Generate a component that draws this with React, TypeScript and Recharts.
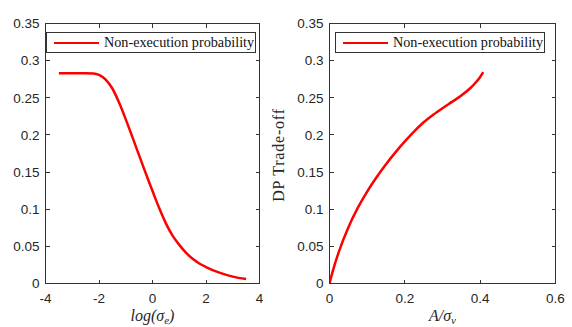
import React from "react";
import { LineChart, Line, XAxis, YAxis, ReferenceArea } from "recharts";

// Left panel: non-execution probability vs log(sigma_e)
const logSigmaE = [-3.5, -3, -2.5, -2.2, -2, -1.75, -1.5, -1.25, -1, -0.75, -0.5, -0.25, 0, 0.25, 0.5, 0.75, 1, 1.25, 1.5, 1.75, 2, 2.5, 3, 3.5];
const probLeft = [0.283, 0.283, 0.283, 0.2828, 0.2808, 0.2745, 0.2625, 0.2435, 0.221, 0.197, 0.1725, 0.148, 0.1245, 0.1015, 0.081, 0.0645, 0.052, 0.0415, 0.0332, 0.027, 0.0222, 0.0146, 0.0093, 0.006];

// Right panel: non-execution probability vs A/sigma_v
const aOverSigmaV = [0, 0.01, 0.025, 0.05, 0.075, 0.1, 0.125, 0.15, 0.175, 0.2, 0.225, 0.25, 0.275, 0.3, 0.325, 0.35, 0.375, 0.39, 0.4, 0.408];
const probRight = [0, 0.019, 0.043, 0.0755, 0.1018, 0.1238, 0.143, 0.1605, 0.1765, 0.1913, 0.2048, 0.217, 0.227, 0.236, 0.2445, 0.253, 0.2635, 0.2715, 0.278, 0.2845];

const yTicks = [0, 0.05, 0.1, 0.15, 0.2, 0.25, 0.3, 0.35];
const xTicksLeft = [-4, -2, 0, 2, 4];
const xTicksRight = [0, 0.2, 0.4, 0.6];
const seriesName = "Non-execution probability";
const yLabel = "DP Trade-off";

const leftData = logSigmaE.map((x, i) => ({ x, y: probLeft[i] }));
const rightData = aOverSigmaV.map((x, i) => ({ x, y: probRight[i] }));

const AXIS = "#333333";
const TICK_FILL = "#262626";
const sans = "'Liberation Sans', Arial, sans-serif";
const serif = "'Liberation Serif', 'Times New Roman', serif";
const CHART_H = 327;
const PLOT_TOP = 23.5;
const X_AXIS_H = 43.5;
const PLOT_BOTTOM = CHART_H - X_AXIS_H;
const TICK_LEN = 4;

const LegendBox = ({ left }: { left: number }) => (
  <div
    style={{
      position: "absolute",
      left,
      top: 32,
      width: 208,
      height: 19,
      border: `1px solid ${AXIS}`,
      background: "#fff",
      boxSizing: "content-box",
    }}
  >
    <div style={{ position: "absolute", left: 7, top: 8.5, width: 45, height: 2.5, background: "#ff0000" }} />
    <div
      style={{
        position: "absolute",
        left: 57,
        top: 1,
        fontFamily: serif,
        fontSize: 14.2,
        lineHeight: "17px",
        color: "#111",
        whiteSpace: "nowrap",
      }}
    >
      {seriesName}
    </div>
  </div>
);

const makeXLabel = (main: string, pre: string, post: string) => (props: any) => {
  const vb = props.viewBox || {};
  const cx = vb.x + vb.width / 2;
  const cy = PLOT_BOTTOM + 37;
  return (
    <text x={cx} y={cy} textAnchor="middle" fontFamily={serif} fontSize={16} fontStyle="italic" fill="#262626">
      <tspan>{pre}</tspan>
      <tspan>{"σ"}</tspan>
      <tspan fontSize={11} dy={3}>{main}</tspan>
      <tspan dy={-3}>{post}</tspan>
    </text>
  );
};

const YLabelContent = () => {
  const x = 16;
  const y = 155;
  return (
    <text
      x={x}
      y={y}
      transform={`rotate(-90 ${x} ${y})`}
      textAnchor="middle"
      dominantBaseline="central"
      fontFamily={serif}
      fontSize={16}
      letterSpacing={0.8}
      fill="#262626"
    >
      {yLabel}
    </text>
  );
};

// bottom tick: label + inward ticks on bottom and top edges
const XTick = (props: any) => {
  const { x, payload } = props;
  return (
    <g>
      <line x1={x} x2={x} y1={PLOT_BOTTOM} y2={PLOT_BOTTOM - TICK_LEN} stroke={AXIS} shapeRendering="crispEdges" />
      <line x1={x} x2={x} y1={PLOT_TOP} y2={PLOT_TOP + TICK_LEN} stroke={AXIS} shapeRendering="crispEdges" />
      <text x={x} y={PLOT_BOTTOM + 10} dy="0.71em" textAnchor="middle" fontFamily={sans} fontSize={13.5} fill={TICK_FILL}>
        {String(payload.value)}
      </text>
    </g>
  );
};

// left tick: label + inward ticks on left and right edges
const makeYTick = (plotLeft: number, plotRight: number) => (props: any) => {
  const { y, payload } = props;
  return (
    <g>
      <line x1={plotLeft} x2={plotLeft + TICK_LEN} y1={y} y2={y} stroke={AXIS} shapeRendering="crispEdges" />
      <line x1={plotRight} x2={plotRight - TICK_LEN} y1={y} y2={y} stroke={AXIS} shapeRendering="crispEdges" />
      <text x={plotLeft - 6} y={y} dy="0.355em" textAnchor="end" fontFamily={sans} fontSize={13.5} fill={TICK_FILL}>
        {String(payload.value)}
      </text>
    </g>
  );
};

type PanelProps = {
  data: { x: number; y: number }[];
  width: number;
  yAxisWidth: number;
  marginRight: number;
  xDomain: [number, number];
  xTicks: number[];
  xLabel: (p: any) => React.ReactElement;
  showYLabel?: boolean;
};

const Panel = ({ data, width, yAxisWidth, marginRight, xDomain, xTicks, xLabel, showYLabel }: PanelProps) => (
  <LineChart width={width} height={CHART_H} data={data} margin={{ top: PLOT_TOP, right: marginRight, bottom: 0, left: 0 }}>
    <XAxis
      dataKey="x"
      type="number"
      domain={xDomain}
      ticks={xTicks}
      allowDataOverflow
      height={X_AXIS_H}
      tickLine={false}
      axisLine={false}
      tick={<XTick />}
      label={{ content: xLabel }}
    />
    <YAxis
      type="number"
      domain={[0, 0.35]}
      ticks={yTicks}
      allowDataOverflow
      width={yAxisWidth}
      tickLine={false}
      axisLine={false}
      tick={makeYTick(yAxisWidth, width - marginRight)}
      label={showYLabel ? { content: YLabelContent } : undefined}
    />
    <ReferenceArea
      x1={xDomain[0]}
      x2={xDomain[1]}
      y1={0}
      y2={0.35}
      fill="none"
      stroke={AXIS}
      strokeWidth={1}
      shapeRendering="crispEdges"
      ifOverflow="extendDomain"
    />
    <Line
      type="monotone"
      dataKey="y"
      name={seriesName}
      stroke="#ff0000"
      strokeWidth={2.5}
      dot={false}
      isAnimationActive={false}
    />
  </LineChart>
);

export default function App() {
  return (
    <div style={{ position: "absolute", left: 0, top: 0, width: 572, height: 327, background: "#fff" }}>
      <div style={{ position: "absolute", left: 0, top: 0 }}>
        <Panel
          data={leftData}
          width={280}
          yAxisWidth={45.5}
          marginRight={20.5}
          xDomain={[-4, 4]}
          xTicks={xTicksLeft}
          xLabel={makeXLabel("e", "log(", ")")}
        />
      </div>
      <div style={{ position: "absolute", left: 262, top: 0 }}>
        <Panel
          data={rightData}
          width={310}
          yAxisWidth={67.5}
          marginRight={16.5}
          xDomain={[0, 0.6]}
          xTicks={xTicksRight}
          xLabel={makeXLabel("v", "A/", "")}
          showYLabel
        />
      </div>
      <LegendBox left={46} />
      <LegendBox left={335} />
    </div>
  );
}
